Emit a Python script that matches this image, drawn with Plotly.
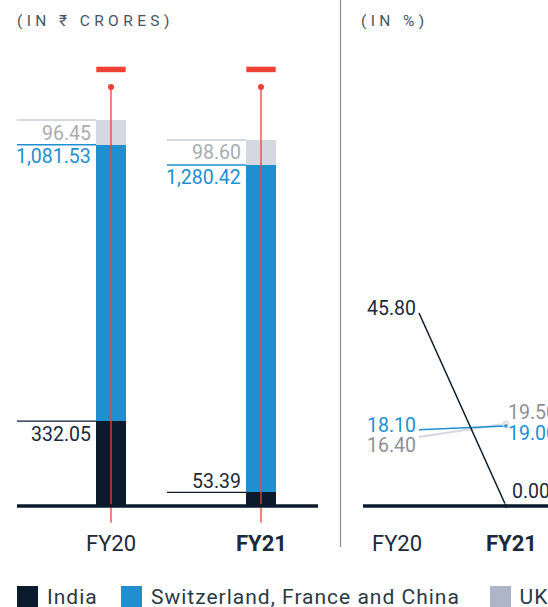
import plotly.graph_objects as go

# ---------------- data ----------------
years = ["FY20", "FY21"]
india = [332.05, 53.39]
sfc = [1081.53, 1280.42]          # Switzerland, France and China
uk = [96.45, 98.60]
red_dash = [1708, 1708]           # red dash above each bar
red_dot = [1639, 1639]            # red pin head
red_foot = [-66, -66]             # red pin foot (below baseline)

pct_india = [45.80, 0.00]
pct_sfc = [18.10, 19.00]
pct_uk = [16.40, 19.50]

legend_names = ["India", "Switzerland, France and China", "UK"]

# ---------------- style ----------------
W, H = 548, 607
FONT = "Roboto"
VS = 19.5
C_IND = "#0b1b2c"
C_SFC = "#1f8fd0"
C_UK = "#d5d8e1"
C_UK_LEG = "#adb5c6"
C_UK_TXT = "#a9acb2"
C_UK_TXT2 = "#8c9198"
C_RED = "#ef4136"
C_TXT = "#1b2a3a"

xs = list(range(len(years)))

fig = go.Figure()

# leader lines (left panel)
def leader(vals, color, width):
    lx, ly = [], []
    for i, v in zip(xs, vals):
        lx += [i - 0.627, i - 0.1, None]
        ly += [v, v, None]
    fig.add_trace(go.Scatter(x=lx, y=ly, mode="lines", line=dict(color=color, width=width),
                             hoverinfo="skip", showlegend=False, xaxis="x", yaxis="y"))

top_ind = india
top_sfc = [a + b for a, b in zip(india, sfc)]
top_uk = [a + b + c for a, b, c in zip(india, sfc, uk)]
leader(top_uk, C_UK, 2)
leader(top_sfc, C_SFC, 1.5)
leader(top_ind, C_IND, 1.3)

# stacked bars
for vals, col, name in [(india, C_IND, legend_names[0]), (sfc, C_SFC, legend_names[1]), (uk, C_UK, legend_names[2])]:
    fig.add_trace(go.Bar(x=xs, y=vals, width=0.2, marker=dict(color=col, line=dict(width=0)),
                         name=name, showlegend=False, xaxis="x", yaxis="y"))

# red pins
px_, py_ = [], []
for i, f, d in zip(xs, red_foot, red_dot):
    px_ += [i, i, None]
    py_ += [f, d, None]
fig.add_trace(go.Scatter(x=px_, y=py_, mode="lines", line=dict(color=C_RED, width=1.3),
                         hoverinfo="skip", showlegend=False, xaxis="x", yaxis="y"))
fig.add_trace(go.Scatter(x=xs, y=red_dot, mode="markers", marker=dict(color=C_RED, size=6),
                         hoverinfo="skip", showlegend=False, xaxis="x", yaxis="y"))
fig.add_trace(go.Scatter(x=xs, y=red_dash, mode="markers",
                         marker=dict(symbol="line-ew", size=21, line=dict(color=C_RED, width=5.5)),
                         hoverinfo="skip", showlegend=False, xaxis="x", yaxis="y"))

# right panel lines
for vals, col, w, ms in [(pct_uk, C_UK, 2, 8), (pct_sfc, C_SFC, 1.5, 5), (pct_india, C_IND, 1.5, 5)]:
    fig.add_trace(go.Scatter(x=xs, y=vals, mode="lines+markers", line=dict(color=col, width=w),
                             marker=dict(color=col, size=[0, ms]), hoverinfo="skip",
                             showlegend=False, xaxis="x2", yaxis="y2"))

ann = []
def A(**k):
    base = dict(showarrow=False, font=dict(family=FONT, size=VS, color=C_TXT))
    base.update(k)
    ann.append(base)

def fmt(v):
    return f"{v:,.2f}"

# left labels
for i in xs:
    A(x=i - 0.12, y=top_uk[i], xref="x", yref="y", text=fmt(uk[i]), xanchor="right", yanchor="middle",
      yshift=-13, font=dict(family=FONT, size=VS, color=C_UK_TXT))
    A(x=i - 0.12, y=top_sfc[i], xref="x", yref="y", text=fmt(sfc[i]), xanchor="right", yanchor="middle",
      yshift=-12, font=dict(family=FONT, size=VS, color=C_SFC))
A(x=0 - 0.12, y=top_ind[0], xref="x", yref="y", text=fmt(india[0]), xanchor="right", yanchor="middle", yshift=-13)
A(x=1 - 0.12, y=top_ind[1], xref="x", yref="y", text=fmt(india[1]), xanchor="right", yanchor="middle", yshift=11)

# right labels
A(x=-0.01, y=pct_india[0], xref="x2", yref="y2", text=fmt(pct_india[0]), xanchor="right", yanchor="middle", yshift=5)
A(x=-0.01, y=pct_sfc[0], xref="x2", yref="y2", text=fmt(pct_sfc[0]), xanchor="right", yanchor="middle", yshift=4,
  font=dict(family=FONT, size=VS, color=C_SFC))
A(x=-0.01, y=pct_uk[0], xref="x2", yref="y2", text=fmt(pct_uk[0]), xanchor="right", yanchor="middle", yshift=-9,
  font=dict(family=FONT, size=VS, color=C_UK_TXT2))
A(x=1.0, y=pct_uk[1], xref="x2", yref="y2", text=fmt(pct_uk[1]), xanchor="left", yanchor="middle", yshift=11,
  font=dict(family=FONT, size=VS, color=C_UK_TXT2))
A(x=1.0, y=pct_sfc[1], xref="x2", yref="y2", text=fmt(pct_sfc[1]), xanchor="left", yanchor="middle", yshift=-8,
  font=dict(family=FONT, size=VS, color=C_SFC))
A(x=1.05, y=pct_india[1], xref="x2", yref="y2", text=fmt(pct_india[1]), xanchor="left", yanchor="middle", yshift=15)

# category labels
yc = 1 - 543 / H
CS = 22
A(x=0, y=yc, xref="x", yref="paper", text=years[0], xanchor="center", yanchor="middle", font=dict(family=FONT, size=CS, color=C_TXT))
A(x=1, y=yc, xref="x", yref="paper", text="<b>" + years[1] + "</b>", xanchor="center", yanchor="middle", font=dict(family=FONT, size=CS, color=C_TXT))
A(x=397 / W, y=yc, xref="paper", yref="paper", text=years[0], xanchor="center", yanchor="middle", font=dict(family=FONT, size=CS, color=C_TXT))
A(x=511 / W, y=yc, xref="paper", yref="paper", text="<b>" + years[1] + "</b>", xanchor="center", yanchor="middle", font=dict(family=FONT, size=CS, color=C_TXT))

# titles
A(x=15 / W, y=1 - 21 / H, xref="paper", yref="paper", text="(IN ₹ CRORES)", xanchor="left", yanchor="middle",
  font=dict(family=FONT, size=15.5, color="#4a5563"))
A(x=359 / W, y=1 - 21 / H, xref="paper", yref="paper", text="(IN %)", xanchor="left", yanchor="middle",
  font=dict(family=FONT, size=15.5, color="#4a5563"))

# legend
shapes = []
leg = [(17, C_IND, legend_names[0], 45), (121, C_SFC, legend_names[1], 149), (490, C_UK_LEG, legend_names[2], 518)]
for x0, col, name, tx in leg:
    shapes.append(dict(type="rect", xref="paper", yref="paper", x0=x0 / W, x1=(x0 + 21) / W,
                       y0=1 - 607 / H, y1=1 - 586 / H, fillcolor=col, line=dict(width=0)))
    A(x=tx / W, y=1 - 597 / H, xref="paper", yref="paper", text=name, xanchor="left", yanchor="middle",
      font=dict(family=FONT, size=21, color="#2a3848"))

# baselines and divider
shapes.append(dict(type="line", xref="x", yref="y", x0=-0.627, x1=1.38, y0=0, y1=0,
                   line=dict(color=C_IND, width=3.5), layer="above"))
shapes.append(dict(type="line", xref="x2", yref="y2", x0=-0.644, x1=1.6, y0=0, y1=0,
                   line=dict(color=C_IND, width=3.5), layer="above"))
shapes.append(dict(type="line", xref="paper", yref="paper", x0=340.5 / W, x1=340.5 / W, y0=1 - 547 / H, y1=1,
                   line=dict(color="#8a94a0", width=1.3)))

SC_L = 0.2556
SC_R = 4.214
fig.update_layout(
    width=W, height=H, margin=dict(l=0, r=0, t=0, b=0),
    paper_bgcolor="white", plot_bgcolor="rgba(0,0,0,0)",
    barmode="stack", showlegend=False,
    xaxis=dict(domain=[0, 340 / W], range=[(0 - 111) / 150, (340 - 111) / 150], visible=False, fixedrange=True),
    yaxis=dict(domain=[0, 1], range=[-(H - 506) / SC_L, 506 / SC_L], visible=False, fixedrange=True),
    xaxis2=dict(domain=[340 / W, 1], range=[(340 - 419) / 87, (548 - 419) / 87], visible=False, anchor="y2"),
    yaxis2=dict(domain=[0, 1], range=[-(H - 506) / SC_R, 506 / SC_R], visible=False, anchor="x2"),
    annotations=ann, shapes=shapes,
)

post = """
document.body.style.margin='0';
var gd=document.getElementById('{plot_id}');
function spread(t, ls){
  var w0=t.getBBox().width;
  t.style.letterSpacing=ls+'px';
  var w1=t.getBBox().width;
  var x=parseFloat(t.getAttribute('x')||'0');
  t.setAttribute('x', x+(w1-w0)/2);
}
gd.querySelectorAll('.annotation-text').forEach(function(t){
  var s=t.textContent;
  if(s.indexOf('(IN')===0){ spread(t, 4.4); }
  else if(s==='India' || s==='UK' || s.indexOf('Switzerland')===0){ spread(t, 1.0); }
});
"""
fig.write_html("out.html", post_script=post, config={"staticPlot": True})
